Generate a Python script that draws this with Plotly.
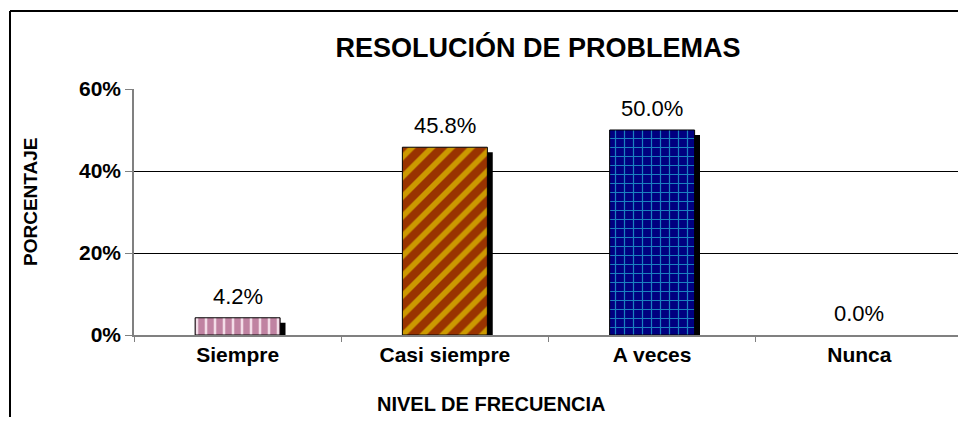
import plotly.graph_objects as go

categorias = ["Siempre", "Casi siempre", "A veces", "Nunca"]
porcentajes = [4.2, 45.8, 50.0, 0.0]
etiquetas = ["4.2%", "45.8%", "50.0%", "0.0%"]
y_ticks = [0, 20, 40, 60]
y_tick_text = ["0%", "20%", "40%", "60%"]

# estilos de relleno por categoría (fondo, trama, forma, tamaño, solidez)
estilos = {
    "Siempre": ("#f3dde8", "#8e2a5c", "|", 9, 0.72),
    "Casi siempre": ("#993300", "#ffff00", "/", 14, 0.4),
    "A veces": ("#000080", "#33ffff", "+", 9, 0.25),
    "Nunca": ("#ffffff", "#ffffff", "", 8, 0.3),
}

# la página tiene 8px de margen en el body
OFF = 8
W, H = 958, 409
L, R, T, B = 126, 3, 81, 82
PW, PH = W - L - R, H - T - B

def px_x(p):
    return (p - OFF - L) / PW

def px_y(p):
    return (H - B - (p - OFF)) / PH

FONT = "Arial, Liberation Sans, sans-serif"
ANCHO = 0.41

fig = go.Figure()

# sombra negra detrás de cada barra
fig.add_trace(go.Bar(
    x=categorias,
    y=[max(v - 1.2, 0) for v in porcentajes],
    width=ANCHO, offset=-ANCHO / 2 + 0.026,
    marker=dict(color="#000000", line=dict(width=0)),
    hoverinfo="skip", showlegend=False,
))

for c, v in zip(categorias, porcentajes):
    bgc, fgc, forma, tam, sol = estilos[c]
    fig.add_trace(go.Bar(
        x=[c], y=[v],
        width=ANCHO, offset=-ANCHO / 2,
        marker=dict(
            color=bgc,
            line=dict(color="#000000", width=1 if v > 0 else 0),
            pattern=dict(shape=forma, fgcolor=fgc, size=tam, solidity=sol,
                         fillmode="overlay"),
        ),
        showlegend=False,
    ))

for c, v, t in zip(categorias, porcentajes, etiquetas):
    fig.add_annotation(x=c, y=v, text=t, showarrow=False, yanchor="bottom",
                       yshift=7, font=dict(family=FONT, size=22, color="#000000"))

fig.add_annotation(xref="paper", yref="paper", x=px_x(30), y=px_y(202),
                   xanchor="center", yanchor="middle",
                   text="<b>PORCENTAJE</b>", textangle=-90, showarrow=False,
                   font=dict(family=FONT, size=19, color="#000000"))
fig.add_annotation(xref="paper", yref="paper", x=px_x(491), y=px_y(404),
                   xanchor="center", yanchor="middle",
                   text="<b>NIVEL DE FRECUENCIA</b>", showarrow=False,
                   font=dict(family=FONT, size=20, color="#000000"))

# marco exterior (izquierda y arriba)
fig.add_shape(type="line", xref="paper", yref="paper", x0=px_x(10), x1=px_x(10),
              y0=px_y(11), y1=px_y(H + OFF + 5), line=dict(color="#000000", width=2))
fig.add_shape(type="line", xref="paper", yref="paper", x0=px_x(10), x1=px_x(W + OFF + 5),
              y0=px_y(11), y1=px_y(11), line=dict(color="#000000", width=2))

fig.update_layout(
    width=W, height=H,
    margin=dict(l=L, r=R, t=T, b=B),
    paper_bgcolor="#ffffff", plot_bgcolor="#ffffff",
    barmode="overlay",
    title=dict(text="<b>RESOLUCIÓN DE PROBLEMAS</b>", xref="paper", x=px_x(538),
               xanchor="center", y=1 - (48 - OFF) / H, yanchor="middle",
               font=dict(family=FONT, size=27, color="#000000")),
    font=dict(family=FONT, color="#000000"),
)
fig.update_xaxes(
    automargin=False,
    showline=True, linecolor="#808080", linewidth=1.5,
    ticks="outside", ticklen=5, tickcolor="#808080", tickson="boundaries",
    showgrid=False,
    tickfont=dict(family=FONT, size=21, color="#000000", weight="bold"),
)
fig.update_yaxes(
    automargin=False,
    range=[0, 60], tickvals=y_ticks, ticktext=y_tick_text,
    showline=True, linecolor="#808080", linewidth=1.5,
    ticks="outside", ticklen=7, tickcolor="#808080",
    showgrid=True, gridcolor="#000000", gridwidth=1,
    zeroline=False,
    tickfont=dict(family=FONT, size=21, color="#000000", weight="bold"),
)

fig.write_html("out.html")
